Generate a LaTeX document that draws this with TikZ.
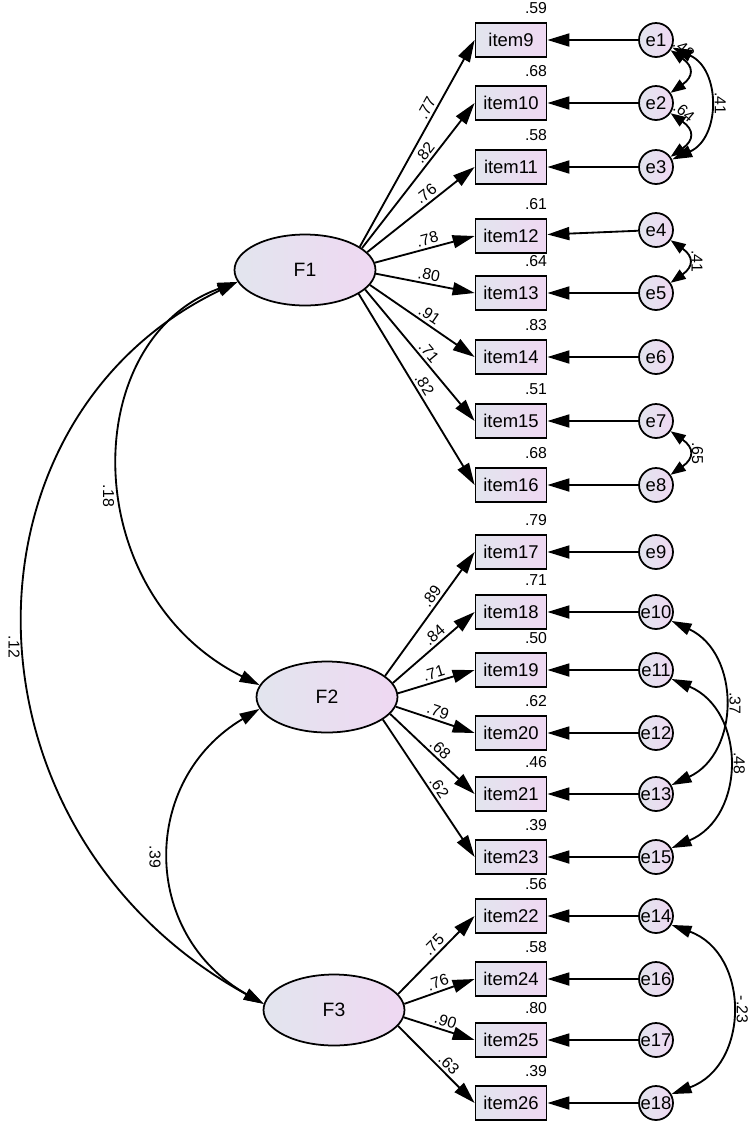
\documentclass[tikz,border=0pt]{standalone}
\usepackage{fontspec}
\setmainfont{Liberation Sans}
\usetikzlibrary{arrows.meta, shapes.geometric}
\definecolor{shadeL}{HTML}{E2E5EE}
\definecolor{shadeR}{HTML}{EFD8F2}
\tikzset{itembox/.style={draw,line width=1pt,minimum width=1.42cm,minimum height=0.68cm,inner sep=0pt,left color=shadeL,right color=shadeR,font=\fontsize{10.5}{12}\selectfont},
         errnode/.style={draw,circle,line width=1pt,minimum size=0.68cm,inner sep=0pt,left color=shadeL,right color=shadeR,font=\fontsize{10.5}{12}\selectfont},
         latent/.style={draw,ellipse,line width=1pt,minimum width=2.82cm,minimum height=1.42cm,left color=shadeL,right color=shadeR,font=\fontsize{11}{13}\selectfont},
         varlab/.style={anchor=south east,inner sep=0pt,yshift=0.16cm,font=\fontsize{9}{10}\selectfont},
         num/.style={inner sep=1.5pt,font=\fontsize{9}{10}\selectfont},
         load/.style={-{Triangle[length=0.44cm,width=0.26cm]},line width=1.05pt},
         cov/.style={{Triangle[length=0.4cm,width=0.24cm]}-{Triangle[length=0.4cm,width=0.24cm]},line width=1.05pt},
         scov/.style={{Triangle[length=0.3cm,width=0.22cm]}-{Triangle[length=0.3cm,width=0.22cm]},line width=1.05pt}}

\begin{document}
\begin{tikzpicture}[x=0.02cm,y=0.02cm]
        \useasboundingbox(0,0)rectangle(751,-1130);
        % factors
        \node[latent](F1)at(305,-270){F1};
        \node[latent](F2)at(327,-697){F2};
        \node[latent](F3)at(334,-1010){F3};
        % observed items
        \node[itembox,label={[varlab]north east:.59}](i9)at(511,-40){item9};
        \node[itembox,label={[varlab]north east:.68}](i10)at(511,-103){item10};
        \node[itembox,label={[varlab]north east:.58}](i11)at(511,-167){item11};
        \node[itembox,label={[varlab]north east:.61}](i12)at(511,-236){item12};
        \node[itembox,label={[varlab]north east:.64}](i13)at(511,-293){item13};
        \node[itembox,label={[varlab]north east:.83}](i14)at(511,-357){item14};
        \node[itembox,label={[varlab]north east:.51}](i15)at(511,-421){item15};
        \node[itembox,label={[varlab]north east:.68}](i16)at(511,-485){item16};
        \node[itembox,label={[varlab]north east:.79}](i17)at(511,-552){item17};
        \node[itembox,label={[varlab]north east:.71}](i18)at(511,-612){item18};
        \node[itembox,label={[varlab]north east:.50}](i19)at(511,-670){item19};
        \node[itembox,label={[varlab]north east:.62}](i20)at(511,-733){item20};
        \node[itembox,label={[varlab]north east:.46}](i21)at(511,-794){item21};
        \node[itembox,label={[varlab]north east:.39}](i23)at(511,-857){item23};
        \node[itembox,label={[varlab]north east:.56}](i22)at(511,-916){item22};
        \node[itembox,label={[varlab]north east:.58}](i24)at(511,-979){item24};
        \node[itembox,label={[varlab]north east:.80}](i25)at(511,-1040){item25};
        \node[itembox,label={[varlab]north east:.39}](i26)at(511,-1103){item26};
        % errors
        \node[errnode](e1)at(656,-40){e1};
        \node[errnode](e2)at(656,-103){e2};
        \node[errnode](e3)at(656,-167){e3};
        \node[errnode](e4)at(656,-230){e4};
        \node[errnode](e5)at(656,-293){e5};
        \node[errnode](e6)at(656,-357){e6};
        \node[errnode](e7)at(656,-421){e7};
        \node[errnode](e8)at(656,-485){e8};
        \node[errnode](e9)at(656,-552){e9};
        \node[errnode](e10)at(656,-612){e10};
        \node[errnode](e11)at(656,-670){e11};
        \node[errnode](e12)at(656,-733){e12};
        \node[errnode](e13)at(656,-794){e13};
        \node[errnode](e15)at(656,-857){e15};
        \node[errnode](e14)at(656,-916){e14};
        \node[errnode](e16)at(656,-979){e16};
        \node[errnode](e17)at(656,-1040){e17};
        \node[errnode](e18)at(656,-1103){e18};
        % loadings
        \draw[load](F1.23)--(i9.west)node[num,pos=0.65,sloped,above]{.77};
        \draw[load](F1.21)--(i10.west)node[num,pos=0.62,sloped,above]{.82};
        \draw[load](F1.16)--(i11.west)node[num,pos=0.6,sloped,above]{.76};
        \draw[load](F1.6)--(i12.west)node[num,pos=0.55,sloped,above]{.78};
        \draw[load](F1.-3)--(i13.west)node[num,pos=0.52,sloped,above]{.80};
        \draw[load](F1.-13)--(i14.west)node[num,pos=0.52,sloped,above]{.91};
        \draw[load](F1.-18)--(i15.west)node[num,pos=0.52,sloped,above]{.71};
        \draw[load](F1.-24)--(i16.west)node[num,pos=0.5,sloped,above]{.82};
        \draw[load](F2.20)--(i17.west)node[num,pos=0.6,sloped,above]{.89};
        \draw[load](F2.12)--(i18.west)node[num,pos=0.58,sloped,above]{.84};
        \draw[load](F2.3)--(i19.west)node[num,pos=0.5,sloped,above]{.71};
        \draw[load](F2.-8)--(i20.west)node[num,pos=0.5,sloped,above]{.79};
        \draw[load](F2.-15)--(i21.west)node[num,pos=0.52,sloped,above]{.68};
        \draw[load](F2.-22)--(i23.west)node[num,pos=0.53,sloped,above]{.62};
        \draw[load](F3.14)--(i22.west)node[num,pos=0.55,sloped,above]{.75};
        \draw[load](F3.5)--(i24.west)node[num,pos=0.52,sloped,above]{.76};
        \draw[load](F3.-6)--(i25.west)node[num,pos=0.55,sloped,above]{.90};
        \draw[load](F3.-14)--(i26.west)node[num,pos=0.58,sloped,above]{.63};
        % error paths
        \draw[load](e1)--(i9);
        \draw[load](e2)--(i10);
        \draw[load](e3)--(i11);
        \draw[load](e4)--(i12);
        \draw[load](e5)--(i13);
        \draw[load](e6)--(i14);
        \draw[load](e7)--(i15);
        \draw[load](e8)--(i16);
        \draw[load](e9)--(i17);
        \draw[load](e10)--(i18);
        \draw[load](e11)--(i19);
        \draw[load](e12)--(i20);
        \draw[load](e13)--(i21);
        \draw[load](e15)--(i23);
        \draw[load](e14)--(i22);
        \draw[load](e16)--(i24);
        \draw[load](e17)--(i25);
        \draw[load](e18)--(i26);
        % factor covariances
        \draw[cov](F1.190)..controls(77,-340)and(77,-594)..(F2.170)node[num,pos=0.55,rotate=-90,anchor=north,inner sep=4pt]{.18};
        \draw[cov](F1.190)..controls(-50,-420)and(-50,-831)..(F3.175)node[num,pos=0.52,rotate=-90,anchor=north,inner sep=3pt]{.12};
        \draw[cov](F2.190)..controls(140,-780)and(140,-934)..(F3.175)node[num,pos=0.5,rotate=-90,anchor=north,inner sep=5pt]{.39};
        % error covariances
        \draw[scov](e1.-35)to[out=-35,in=35,looseness=1.7]node[num,pos=0.12,sloped,above]{.48}(e2.35);
        \draw[scov](e2.-35)to[out=-35,in=35,looseness=1.7]node[num,pos=0.12,sloped,above]{.64}(e3.35);
        \draw[cov](e1.-25)to[out=-24,in=24,looseness=1.22]node[num,pos=0.5,rotate=-90,anchor=south,inner sep=3pt]{.41}(e3.25);
        \draw[scov](e4.-35)to[out=-35,in=35,looseness=1.7]node[num,pos=0.5,rotate=-90,anchor=south]{.41}(e5.35);
        \draw[scov](e7.-35)to[out=-35,in=35,looseness=1.7]node[num,pos=0.5,rotate=-90,anchor=south]{.65}(e8.35);
        \draw[cov](e10.-30)to[out=-25,in=25,looseness=1.19]node[num,pos=0.5,rotate=-90,anchor=south,inner sep=3pt]{.37}(e13.30);
        \draw[cov](e11.-30)to[out=-23,in=23,looseness=1.23]node[num,pos=0.5,rotate=-90,anchor=south,inner sep=3pt]{.48}(e15.30);
        \draw[cov](e14.-30)to[out=-20,in=20,looseness=1.27]node[num,pos=0.5,rotate=-90,anchor=south,inner sep=3pt]{-.23}(e18.30);
    \end{tikzpicture}
\end{document}
